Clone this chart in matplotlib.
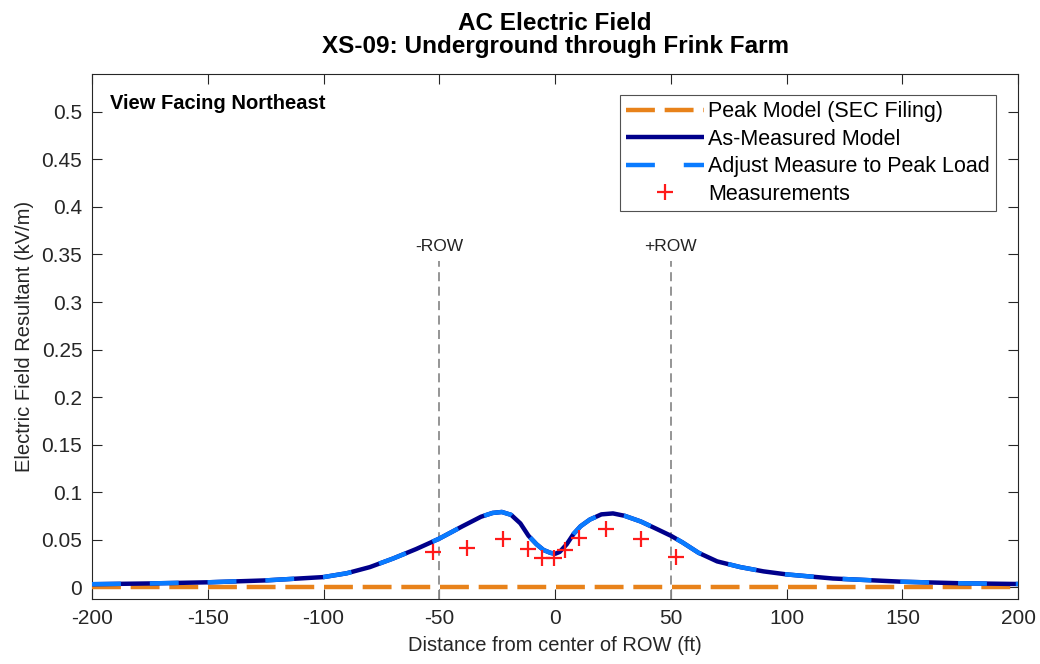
import matplotlib
matplotlib.use('Agg')
import matplotlib.pyplot as plt

plt.rcParams['font.family'] = ['Liberation Sans', 'DejaVu Sans']
plt.rcParams['axes.unicode_minus'] = False

# distance from center of ROW (ft) and modelled field (kV/m)
dist = [-200, -175, -150, -125, -100, -90, -80, -70, -60, -50, -40, -32, -27, -23,
        -19, -15, -11.5, -8, -5, -2, 0, 2, 5, 8, 11, 15, 20, 25, 30, 37, 44, 50,
        55, 62, 70, 80, 90, 100, 120, 150, 175, 200]
as_measured = [0.003, 0.0038, 0.005, 0.007, 0.0105, 0.0145, 0.021, 0.030, 0.040, 0.051,
               0.064, 0.074, 0.078, 0.079, 0.076, 0.067, 0.054, 0.045, 0.039, 0.036,
               0.035, 0.037, 0.045, 0.056, 0.064, 0.071, 0.0765, 0.0775, 0.075, 0.069,
               0.061, 0.054, 0.047, 0.036, 0.027, 0.021, 0.0165, 0.0133, 0.009, 0.0056,
               0.004, 0.0032]
adjusted = as_measured  # adjusted-to-peak curve sits on top of the measured model

peak_dist = [-200, -100, 0, 100, 200]
peak_model = [0.0005, 0.0005, 0.0005, 0.0005, 0.0005]

meas_dist = [-52.6, -37.9, -22.3, -11.5, -5.5, -0.3, 4.3, 10.4, 21.9, 37.0, 52.1]
meas_val = [0.037, 0.041, 0.051, 0.040, 0.031, 0.031, 0.039, 0.052, 0.061, 0.051, 0.032]

row_edges = [-50, 50]
row_labels = ['-ROW', '+ROW']

fig = plt.figure(figsize=(10.4, 6.64), dpi=100)
ax = fig.add_axes([0.0885, 0.098, 0.8905, 0.7906])

ax.plot(peak_dist, peak_model, color='#E8821A', lw=3.2, dashes=(6.5, 2.2),
        label='Peak Model (SEC Filing)', zorder=3)
ax.plot(dist, as_measured, color='#00008B', lw=3.2, solid_capstyle='butt',
        label='As-Measured Model', zorder=4)
ax.plot(dist, adjusted, color='#0A7BFF', lw=3.2, dashes=(6.5, 6.5),
        label='Adjust Measure to Peak Load', zorder=5)
ax.plot(meas_dist, meas_val, '+', color='#FF1A1A', ms=12, mew=1.6,
        label='Measurements', zorder=6)

for x, lab in zip(row_edges, row_labels):
    ax.plot([x, x], [-0.0125, 0.343], color='#8C8C8C', lw=1.3, dashes=(5, 3), zorder=2)
    ax.text(x, 0.35, lab, ha='center', va='bottom', fontsize=12.5, color='#222222')

ax.text(0.019, 0.962, 'View Facing Northeast', transform=ax.transAxes, fontsize=14.5,
        fontweight='bold', ha='left', va='top')

ax.set_xlim(-200, 200)
ax.set_ylim(-0.0125, 0.54)
ax.set_xticks(range(-200, 201, 50))
yt = [i * 0.05 for i in range(11)]
ax.set_yticks(yt)
ax.set_yticklabels(['0', '0.05', '0.1', '0.15', '0.2', '0.25', '0.3', '0.35', '0.4',
                    '0.45', '0.5'])
ax.tick_params(direction='in', top=True, right=True, labelsize=15, colors='#262626',
               length=7, width=0.8, pad=7)
for s in ax.spines.values():
    s.set_color('#262626')
    s.set_linewidth(0.8)

ax.set_xlabel('Distance from center of ROW (ft)', fontsize=14.5, color='#262626', labelpad=6)
ax.set_ylabel('Electric Field Resultant (kV/m)', fontsize=14.5, color='#262626', labelpad=5)

xc = 0.0885 + 0.8905 / 2
fig.text(xc, 1 - 30 / 664, 'AC Electric Field', ha='center', va='baseline',
         fontsize=17.5, fontweight='bold')
fig.text(xc, 1 - 52.5 / 664, 'XS-09: Underground through Frink Farm', ha='center',
         va='baseline', fontsize=17.5, fontweight='bold')

leg = ax.legend(loc='upper right', bbox_to_anchor=(0.9765, 0.96), fontsize=15.5,
                frameon=True, fancybox=False, edgecolor='#262626', handlelength=3.6,
                handletextpad=0.2, borderpad=0.3, labelspacing=0.3, borderaxespad=0)
leg.get_frame().set_linewidth(0.8)

fig.savefig('out.png', dpi=100)
